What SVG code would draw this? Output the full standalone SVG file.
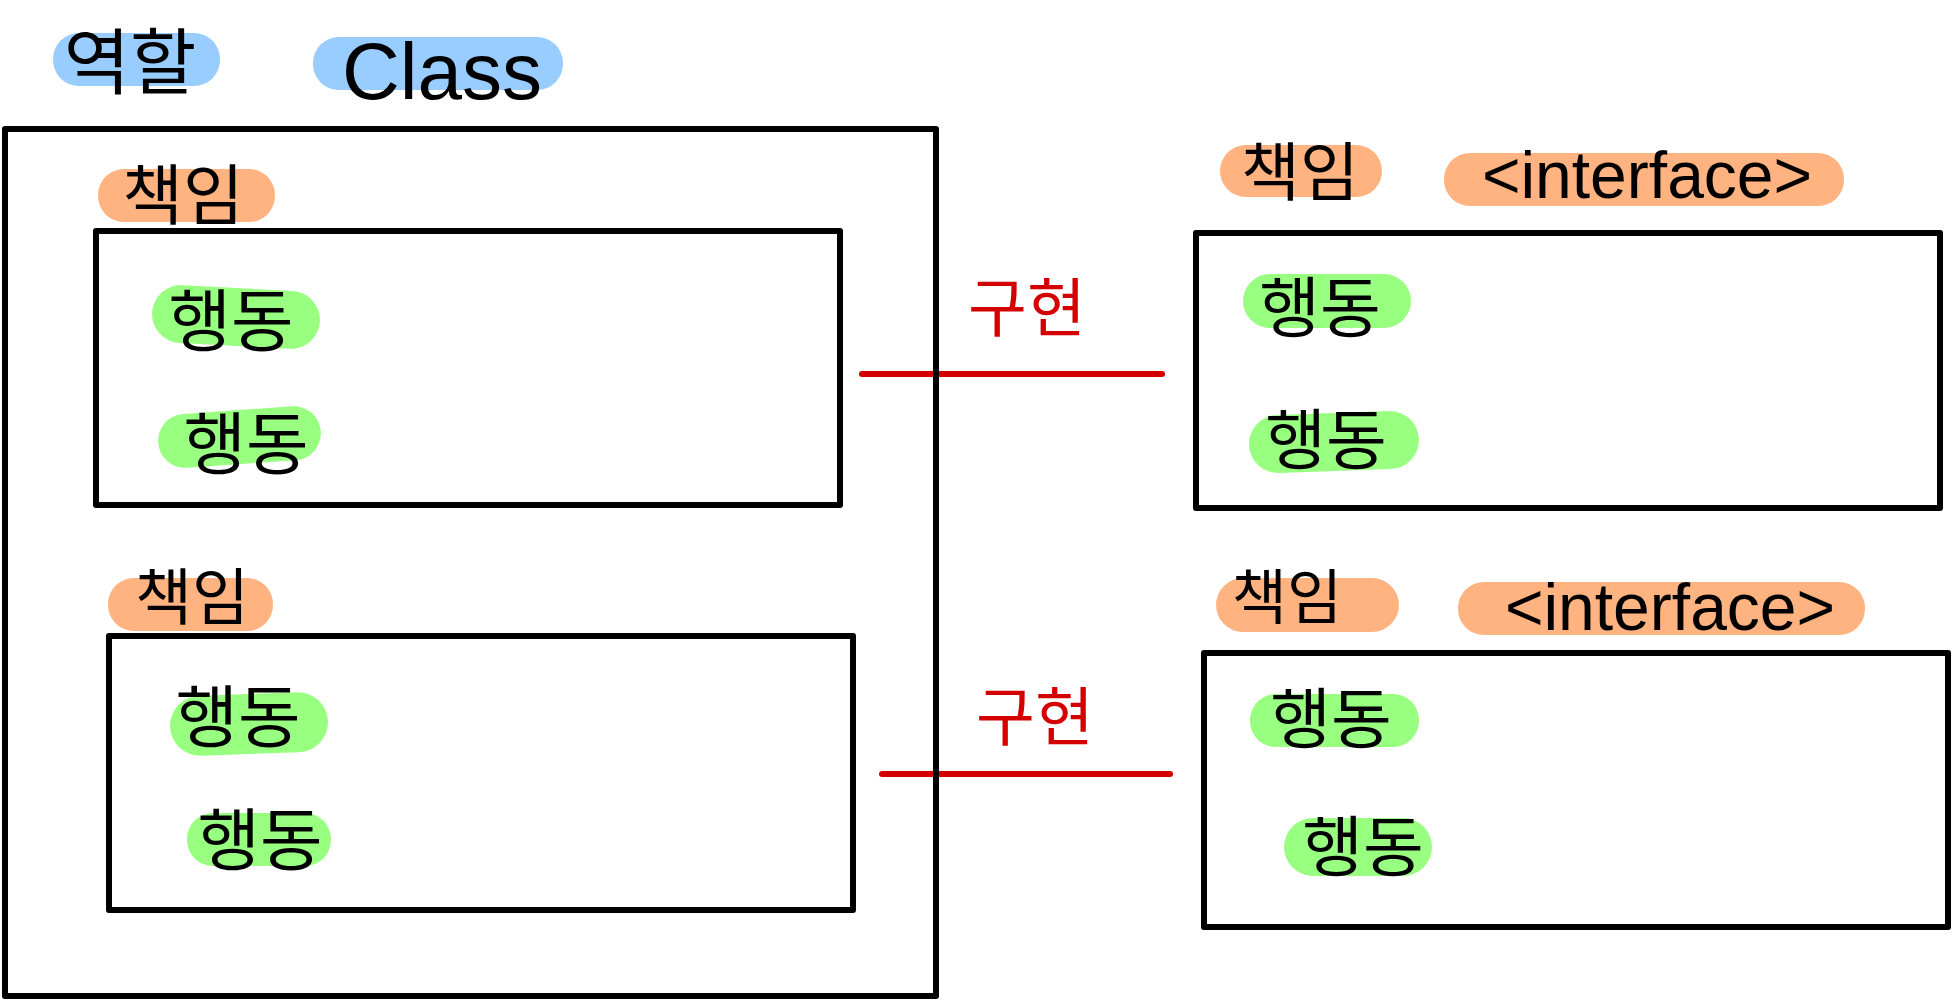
<svg xmlns="http://www.w3.org/2000/svg" width="1952" height="1000" viewBox="0 0 1952 1000">
<style>
.box{fill:none;stroke:#000;stroke-width:6;stroke-linejoin:round}
.blue{fill:#99ccff}
.orange{fill:#ffb380}
.green{fill:#99ff80}
.ko{font-family:"Noto Sans CJK KR","Noto Sans",sans-serif;fill:#000;text-anchor:middle}
.en{font-family:"Liberation Sans",Arial,sans-serif;fill:#000;text-anchor:middle}
.red{font-family:"Noto Sans CJK KR","Noto Sans",sans-serif;fill:#d40000;text-anchor:middle;font-size:64px}
.link{stroke:#d40000;stroke-width:6;stroke-linecap:round;fill:none}
</style>
<rect width="1952" height="1000" fill="#fff"/>
<g id="connectors">
<line class="link" x1="862" y1="374" x2="1162" y2="374"/>
<text class="red" x="1027" y="331">구현</text>
<line class="link" x1="882" y1="774" x2="1170" y2="774"/>
<text class="red" x="1035" y="740">구현</text>
</g>
<g id="role-class">
<rect class="blue" x="53" y="33" width="167" height="53" rx="26"/>
<text class="ko" x="130" y="88" font-size="72">역할</text>
<rect class="blue" x="313" y="37" width="250" height="53" rx="26"/>
<text class="en" x="442" y="99" font-size="80">Class</text>
<rect class="box" x="5" y="129" width="931" height="867"/>
</g>
<g id="class-resp-1">
<rect class="orange" x="98" y="169" width="177" height="53" rx="26"/>
<text class="ko" x="183" y="219" font-size="66">책임</text>
<rect class="box" x="96" y="231" width="744" height="274"/>
</g>
<g id="class-resp-1-act-1">
<rect class="green" x="152" y="288" width="168" height="58" rx="29" transform="rotate(3 236 317)"/>
<text class="ko" x="231" y="346" font-size="68">행동</text>
</g>
<g id="class-resp-1-act-2">
<rect class="green" x="158" y="410" width="163" height="54" rx="27" transform="rotate(-4 240 437)"/>
<text class="ko" x="246" y="469" font-size="68">행동</text>
</g>
<g id="class-resp-2">
<rect class="orange" x="108" y="578" width="165" height="53" rx="26"/>
<text class="ko" x="192" y="620" font-size="62">책임</text>
<rect class="box" x="109" y="636" width="744" height="274"/>
</g>
<g id="class-resp-2-act-1">
<rect class="green" x="170" y="694" width="158" height="60" rx="30" transform="rotate(-2 249 724)"/>
<text class="ko" x="238" y="742" font-size="68">행동</text>
</g>
<g id="class-resp-2-act-2">
<rect class="green" x="187" y="813" width="144" height="53" rx="26"/>
<text class="ko" x="260" y="865" font-size="68">행동</text>
</g>
<g id="interface-1">
<rect class="orange" x="1220" y="145" width="162" height="52" rx="26"/>
<text class="ko" x="1300" y="195" font-size="64">책임</text>
<rect class="orange" x="1444" y="153" width="400" height="53" rx="26"/>
<text class="en" x="1647" y="198" font-size="66">&lt;interface&gt;</text>
<rect class="box" x="1196" y="233" width="744" height="275"/>
</g>
<g id="interface-1-act-1">
<rect class="green" x="1243" y="274" width="168" height="54" rx="27"/>
<text class="ko" x="1320" y="332" font-size="66">행동</text>
</g>
<g id="interface-1-act-2">
<rect class="green" x="1249" y="413" width="170" height="58" rx="29" transform="rotate(-2 1334 442)"/>
<text class="ko" x="1326" y="464" font-size="66">행동</text>
</g>
<g id="interface-2">
<rect class="orange" x="1216" y="578" width="183" height="54" rx="27"/>
<text class="ko" x="1287" y="619" font-size="60">책임</text>
<rect class="orange" x="1458" y="582" width="407" height="53" rx="26"/>
<text class="en" x="1670" y="630" font-size="66">&lt;interface&gt;</text>
<rect class="box" x="1204" y="653" width="744" height="274"/>
</g>
<g id="interface-2-act-1">
<rect class="green" x="1250" y="694" width="169" height="53" rx="26"/>
<text class="ko" x="1331" y="743" font-size="66">행동</text>
</g>
<g id="interface-2-act-2">
<rect class="green" x="1284" y="818" width="148" height="58" rx="29"/>
<text class="ko" x="1363" y="871" font-size="66">행동</text>
</g>
</svg>
